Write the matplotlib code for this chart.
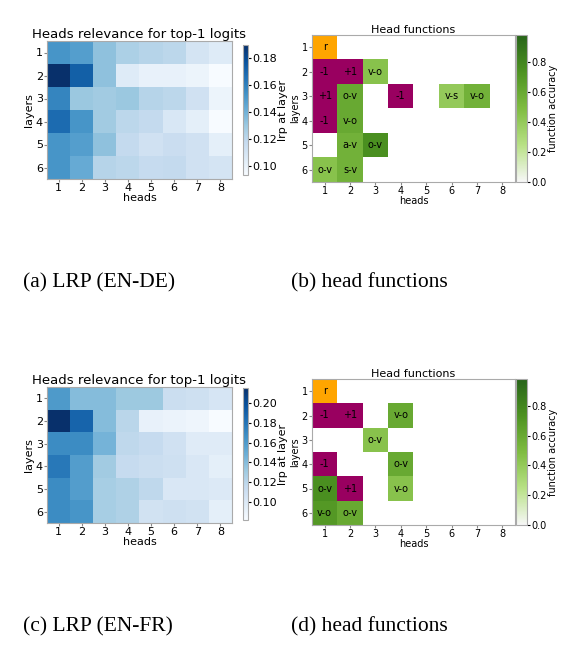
import numpy as np
import matplotlib.pyplot as plt
from matplotlib.colors import ListedColormap, LinearSegmentedColormap

heads = [1, 2, 3, 4, 5, 6, 7, 8]
layers = [1, 2, 3, 4, 5, 6]

lrp_de = np.array([
    [.152, .148, .133, .125, .122, .120, .110, .105],
    [.190, .172, .133, .105, .100, .100, .098, .093],
    [.158, .130, .128, .130, .122, .120, .112, .098],
    [.168, .152, .128, .120, .118, .108, .102, .093],
    [.152, .148, .133, .118, .112, .115, .112, .102],
    [.152, .143, .122, .120, .117, .118, .112, .110],
])
lrp_fr = np.array([
    [.160, .140, .140, .132, .132, .112, .110, .104],
    [.215, .188, .140, .120, .092, .090, .088, .082],
    [.168, .168, .145, .118, .115, .108, .098, .098],
    [.178, .158, .130, .115, .112, .110, .102, .094],
    [.168, .158, .128, .125, .118, .102, .102, .100],
    [.168, .163, .128, .125, .107, .110, .107, .094],
])

# (layer, head, label, accuracy); accuracy None -> special category
func_de = [
    (1, 1, "r", None), (2, 1, "-1", None), (2, 2, "+1", None), (2, 3, "v-o", 0.45),
    (3, 1, "+1", None), (3, 2, "o-v", 0.60), (3, 4, "-1", None), (3, 6, "v-s", 0.40),
    (3, 7, "v-o", 0.55), (4, 1, "-1", None), (4, 2, "v-o", 0.60), (5, 2, "a-v", 0.55),
    (5, 3, "o-v", 0.75), (6, 1, "o-v", 0.45), (6, 2, "s-v", 0.55),
]
func_fr = [
    (1, 1, "r", None), (2, 1, "-1", None), (2, 2, "+1", None), (2, 4, "v-o", 0.60),
    (3, 3, "o-v", 0.45), (4, 1, "-1", None), (4, 4, "o-v", 0.60), (5, 1, "o-v", 0.75),
    (5, 2, "+1", None), (5, 4, "v-o", 0.45), (6, 1, "v-o", 0.70), (6, 2, "o-v", 0.60),
]

greens = LinearSegmentedColormap.from_list("g", ["#f7f7f7", "#b8e186", "#7fbc41", "#4d9221", "#276419"])
special = ListedColormap(["#ffa500", "#990060"])

fig = plt.figure(figsize=(5.8, 6.61), dpi=100)
W, H = 580, 661


def ax_px(x0, y0, x1, y1):
    return fig.add_axes([x0 / W, 1 - y1 / H, (x1 - x0) / W, (y1 - y0) / H])


def style(ax, fs):
    ax.set_xticks(range(8))
    ax.set_xticklabels(heads, fontsize=fs)
    ax.set_yticks(range(6))
    ax.set_yticklabels(layers, fontsize=fs)
    ax.set_xlabel("heads", fontsize=fs, labelpad=0)
    ax.set_ylabel("layers", fontsize=fs, labelpad=1)
    ax.tick_params(length=2, pad=1, color="#888888")
    for s in ax.spines.values():
        s.set_color("#aaaaaa")


def lrp_panel(box, cbox, data, ticks):
    ax = ax_px(*box)
    im = ax.imshow(data, cmap="Blues", aspect="auto")
    style(ax, 8)
    ax.set_title("Heads relevance for top-1 logits", fontsize=9.5, pad=2)
    cax = ax_px(*cbox)
    cb = fig.colorbar(im, cax=cax, ticks=ticks)
    cb.ax.tick_params(labelsize=8, length=2, pad=1)
    cb.set_label("lrp at layer", fontsize=8, labelpad=1)
    cb.outline.set_edgecolor("#aaaaaa")


def func_panel(box, cbox, cells):
    ax = ax_px(*box)
    acc = np.full((6, 8), np.nan)
    cat = np.full((6, 8), np.nan)
    for l, h, lab, a in cells:
        if a is None:
            cat[l - 1, h - 1] = 0 if lab == "r" else 1
        else:
            acc[l - 1, h - 1] = a
        ax.text(h - 1, l - 1, lab, ha="center", va="center", fontsize=7)
    im = ax.imshow(np.ma.masked_invalid(acc), cmap=greens, vmin=0, vmax=0.98, aspect="auto")
    ax.imshow(np.ma.masked_invalid(cat), cmap=special, vmin=0, vmax=1, aspect="auto")
    style(ax, 7)
    ax.set_title("Head functions", fontsize=8, pad=1)
    cax = ax_px(*cbox)
    cb = fig.colorbar(im, cax=cax, ticks=[0, 0.2, 0.4, 0.6, 0.8])
    cb.ax.tick_params(labelsize=7, length=2, pad=1)
    cb.set_label("function accuracy", fontsize=7, labelpad=1)
    cb.outline.set_edgecolor("#aaaaaa")


lrp_panel((47, 41, 232, 179), (243, 45, 248, 175), lrp_de, [0.10, 0.12, 0.14, 0.16, 0.18])
func_panel((312, 35, 515, 182), (516, 35, 527, 182), func_de)
lrp_panel((47, 387, 232, 523), (243, 388, 248, 520), lrp_fr, [0.08, 0.10, 0.12, 0.14, 0.16, 0.18, 0.20])
func_panel((312, 379, 515, 525), (516, 379, 527, 525), func_fr)

cap = dict(fontsize=15.5, family="Liberation Serif", va="center")
fig.text(23 / W, 1 - 283 / H, "(a) LRP (EN-DE)", **cap)
fig.text(291 / W, 1 - 283 / H, "(b) head functions", **cap)
fig.text(23 / W, 1 - 627 / H, "(c) LRP (EN-FR)", **cap)
fig.text(291 / W, 1 - 627 / H, "(d) head functions", **cap)

fig.savefig("out.png", dpi=100)
